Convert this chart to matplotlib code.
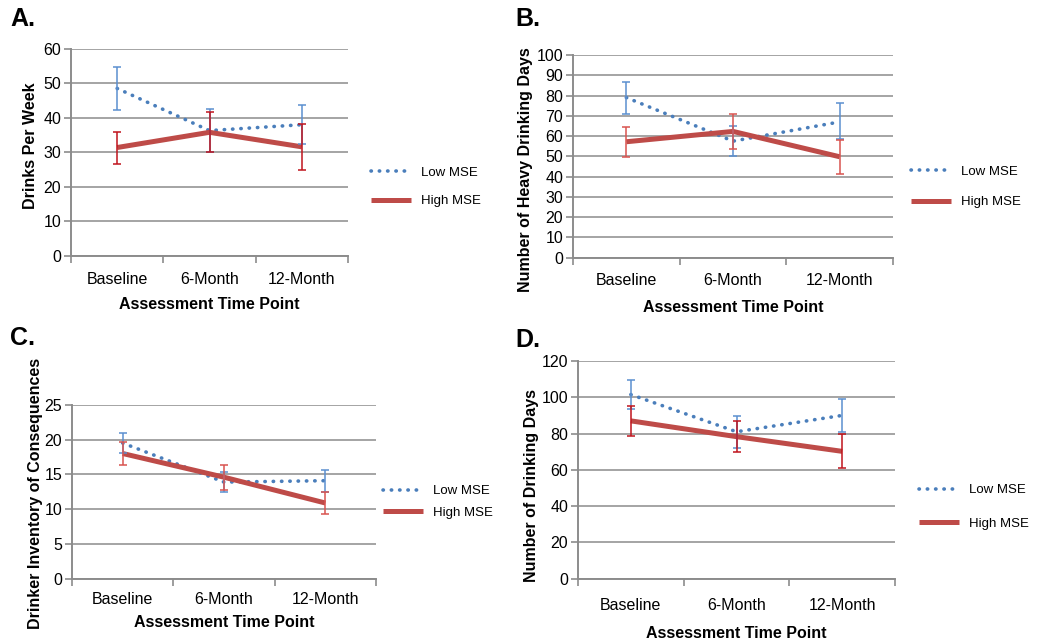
import numpy as np
import matplotlib
matplotlib.use('agg')
import matplotlib.pyplot as plt

plt.rcParams['font.family'] = ['Liberation Sans', 'DejaVu Sans']

timepoints = ['Baseline', '6-Month', '12-Month']

# panel A - drinks per week
a_low = [48.5, 36.3, 38.0]
a_low_lo = [42.3, 30.1, 32.3]
a_low_hi = [54.7, 42.5, 43.7]
a_high = [31.4, 35.8, 31.6]
a_high_lo = [26.7, 30.0, 25.0]
a_high_hi = [36.0, 41.8, 38.2]

# panel B - heavy drinking days
b_low = [79.0, 57.5, 67.0]
b_low_lo = [71.0, 50.0, 58.5]
b_low_hi = [86.8, 65.0, 76.5]
b_high = [57.2, 62.3, 49.8]
b_high_lo = [49.8, 53.5, 41.3]
b_high_hi = [64.5, 71.0, 58.2]

# panel C - drinker inventory of consequences
c_low = [19.5, 13.9, 14.1]
c_low_lo = [18.1, 12.5, 12.5]
c_low_hi = [20.9, 15.4, 15.7]
c_high = [18.0, 14.6, 10.9]
c_high_lo = [16.3, 12.8, 9.3]
c_high_hi = [19.6, 16.4, 12.5]

# panel D - drinking days
d_low = [101.5, 81.0, 90.0]
d_low_lo = [93.8, 72.0, 80.8]
d_low_hi = [109.5, 89.5, 99.0]
d_high = [87.0, 78.3, 70.2]
d_high_lo = [78.7, 69.8, 61.0]
d_high_hi = [95.0, 86.8, 79.5]

W, H = 1047, 644
LOW_C = '#4a7ebb'
HIGH_C = '#be4b48'
GRID_C = '#8c8c8c'

fig = plt.figure(figsize=(W / 100, H / 100), dpi=100)


def px_axes(left, right, top, bottom):
    return fig.add_axes([left / W, (H - bottom) / H, (right - left) / W, (bottom - top) / H])


def panel(box, letter, letter_xy, ylabel, ylab_xy, ymax, ystep, low, low_lo, low_hi,
          high, high_lo, high_hi, leg_xy, leg_space, high_err_c, tpad, lpad):
    ax = px_axes(*box)
    x = np.arange(len(timepoints))
    low = np.array(low); high = np.array(high)
    ax.plot(x, low, color=LOW_C, lw=2.6, ls=(0, (0.1, 2.2)), dash_capstyle='round',
            label='Low MSE', zorder=3)
    ax.plot(x, high, color=HIGH_C, lw=3.6, solid_capstyle='butt', label='High MSE', zorder=3)
    ax.errorbar(x, low, yerr=[low - np.array(low_lo), np.array(low_hi) - low], fmt='none',
                ecolor='#5b8fd0', elinewidth=1.1, capsize=3, capthick=1.1, zorder=4)
    ax.errorbar(x, high, yerr=[high - np.array(high_lo), np.array(high_hi) - high], fmt='none',
                ecolor=high_err_c, elinewidth=1.1, capsize=3, capthick=1.1, zorder=4)

    ax.set_xlim(-0.5, 2.5)
    ax.set_ylim(0, ymax)
    ax.set_yticks(np.arange(0, ymax + 0.1, ystep))
    ax.yaxis.grid(True, color=GRID_C, lw=1.1)
    ax.set_axisbelow(True)
    ax.set_xticks([-0.5, 0.5, 1.5, 2.5])
    ax.set_xticklabels([])
    ax.set_xticks(x, minor=True)
    ax.set_xticklabels(timepoints, minor=True, fontsize=11.5)
    ax.tick_params(axis='x', which='minor', length=0, pad=tpad)
    ax.tick_params(axis='x', which='major', length=5, color=GRID_C, width=1.2)
    ax.tick_params(axis='y', length=5, color=GRID_C, width=1.2, labelsize=11.5, pad=2)
    for s in ['top', 'right']:
        ax.spines[s].set_visible(False)
    for s in ['left', 'bottom']:
        ax.spines[s].set_color(GRID_C)
        ax.spines[s].set_linewidth(1.4)
    ax.set_xlabel('Assessment Time Point', fontsize=11.5, fontweight='bold', labelpad=lpad)
    ax.set_ylabel(ylabel, fontsize=11.5, fontweight='bold')
    # ylabel placed by pixel position (centre x, centre y)
    left, right, top, bottom = box
    ax.yaxis.set_label_coords((ylab_xy[0] + 10 - left) / (right - left),
                              (bottom - ylab_xy[1]) / (bottom - top))

    fig.text(letter_xy[0] / W, 1 - letter_xy[1] / H, letter, fontsize=18,
             fontweight='bold', va='center', ha='left')
    ax.legend(loc='center left', bbox_to_anchor=(leg_xy[0] / W, 1 - leg_xy[1] / H),
              bbox_transform=fig.transFigure, frameon=False, fontsize=9.5,
              handlelength=3.0, handletextpad=0.8, labelspacing=leg_space,
              borderpad=0, borderaxespad=0)
    return ax


panel((71, 348, 48.7, 256), 'A.', (10, 19), 'Drinks Per Week', (28.3, 145.5), 60, 10,
      a_low, a_low_lo, a_low_hi, a_high, a_high_lo, a_high_hi, (371, 187), 1.25, '#c0141c',
      11.5, 7)
panel((573, 893, 55, 257.7), 'B.', (515, 19), 'Number of Heavy Drinking Days', (523.3, 170),
      100, 10, b_low, b_low_lo, b_low_hi, b_high, b_high_lo, b_high_hi, (911, 187), 1.35,
      '#d9534f', 11, 8.5)
panel((72, 376, 404.7, 579), 'C.', (10, 338), 'Drinker Inventory of Consequences', (33, 493),
      25, 5, c_low, c_low_lo, c_low_hi, c_high, c_high_lo, c_high_hi, (383, 502), 0.7,
      '#d9534f', 9.5, 5.5)
panel((578, 895, 361, 578.7), 'D.', (515, 340), 'Number of Drinking Days', (529, 486),
      120, 20, d_low, d_low_lo, d_low_hi, d_high, d_high_lo, d_high_hi, (919, 507), 1.6,
      '#c0141c', 14, 9)

fig.savefig('out.png', dpi=100)
